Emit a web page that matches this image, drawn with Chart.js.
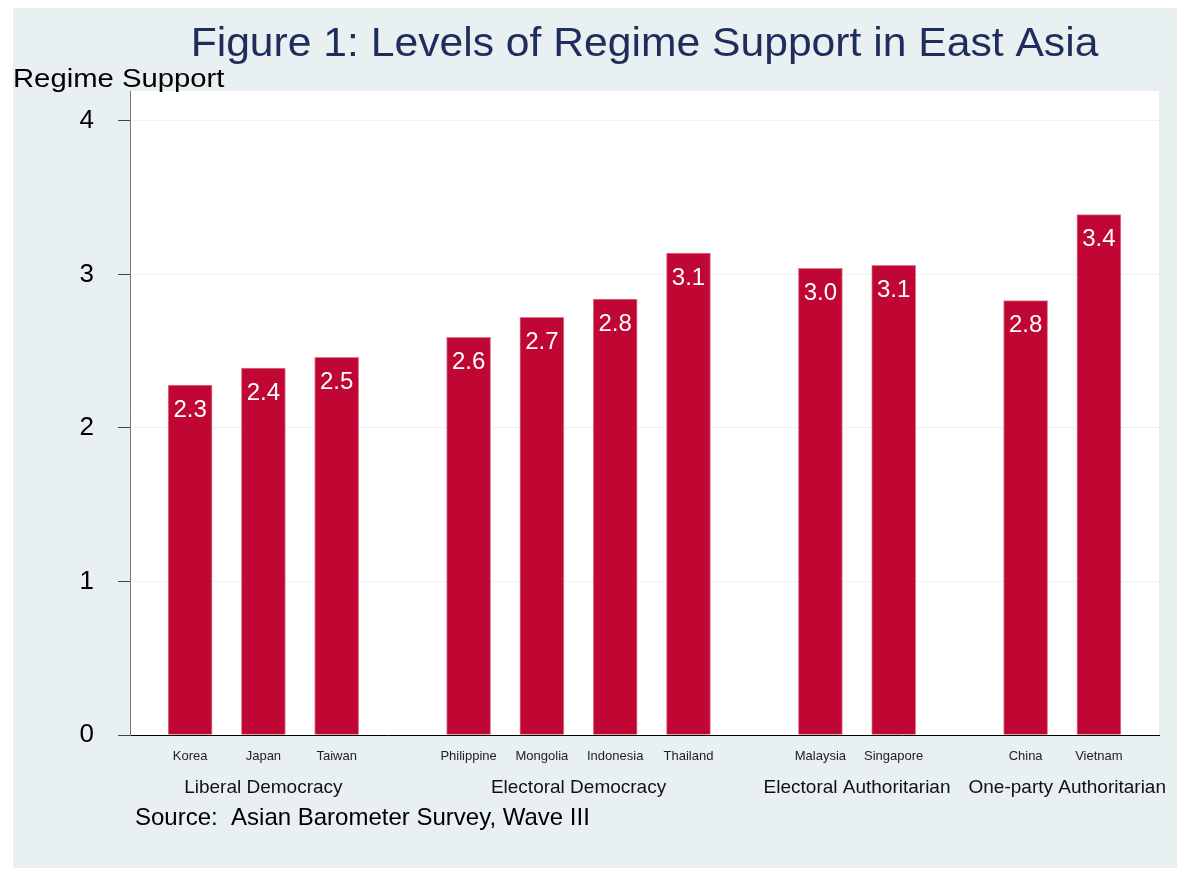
<!DOCTYPE html>
<html>
<head>
<meta charset="utf-8">
<script src="https://cdn.jsdelivr.net/npm/chart.js"></script>
<style>
  body { margin: 0; background: #fff; }
  #wrap { width: 1178px; height: 869px; }
</style>
</head>
<body>
<div id="wrap"><canvas id="grafico"></canvas></div>
<script>
// values
const countries = ['Korea', 'Japan', 'Taiwan', 'Philippine', 'Mongolia', 'Indonesia', 'Thailand',
                   'Malaysia', 'Singapore', 'China', 'Vietnam'];
const regimeSupport = [2.28, 2.39, 2.46, 2.59, 2.72, 2.84, 3.14, 3.04, 3.06, 2.83, 3.39];
const groupNames = ['Liberal Democracy', 'Electoral Democracy', 'Electoral Authoritarian', 'One-party Authoritarian'];
const groupOf = [0, 0, 0, 1, 1, 1, 1, 2, 2, 3, 3];
const yTicks = [0, 1, 2, 3, 4];

const GAP = 0.8; // extra space between regime groups
const xPos = countries.map((c, i) => i + groupOf[i] * GAP);

const barRed = '#c00633';
const fontFam = 'Arial, "Liberation Sans", Helvetica, sans-serif';

const ctx = document.getElementById('grafico');

// text drawn a little wider, like the original
function wideText(c, txt, x, y, sx) {
  c.save();
  c.translate(x, y);
  c.scale(sx, 1);
  c.fillText(txt, 0, 0);
  c.restore();
}

// background, titles, value labels, group labels
const extras = {
  id: 'extras',
  beforeDraw(chart) {
    const c = chart.ctx, a = chart.chartArea;
    c.save();
    c.fillStyle = '#e8f0f2';
    c.fillRect(13, 8, 1164, 860);
    c.fillStyle = '#ffffff';
    c.fillRect(a.left, a.top, a.right - a.left, a.bottom - a.top);
    c.restore();
  },
  afterDatasetsDraw(chart) {
    const c = chart.ctx, a = chart.chartArea;
    const xs = chart.scales.x;
    const meta = chart.getDatasetMeta(0);
    c.save();
    c.textAlign = 'center';
    c.textBaseline = 'middle';
    c.fillStyle = '#ffffff';
    c.font = '24px ' + fontFam;
    meta.data.forEach((bar, i) => {
      c.fillText(regimeSupport[i].toFixed(1), bar.x, bar.y + 25);
    });

    // group labels
    c.fillStyle = '#111';
    c.font = '19px ' + fontFam;
    groupNames.forEach((g, gi) => {
      const xsIn = xPos.filter((v, i) => groupOf[i] === gi);
      const mid = (xsIn[0] + xsIn[xsIn.length - 1]) / 2;
      c.fillText(g, xs.getPixelForValue(mid) + (gi === 3 ? 5 : 0), 788);
    });

    // title
    c.fillStyle = '#1f2d5c';
    c.font = '41px ' + fontFam;
    wideText(c, 'Figure 1: Levels of Regime Support in East Asia', (a.left + a.right) / 2, 45, 1.04);

    // axis title and source
    c.textAlign = 'left';
    c.fillStyle = '#000';
    c.font = '25px ' + fontFam;
    wideText(c, 'Regime Support', 13, 80, 1.17);
    c.font = '24px ' + fontFam;
    wideText(c, 'Source:  Asian Barometer Survey, Wave III', 135, 818, 1.0);
    c.restore();
  }
};

new Chart(ctx, {
  type: 'bar',
  data: {
    datasets: [{
      label: 'Regime Support',
      data: xPos.map((x, i) => ({ x: x, y: regimeSupport[i] })),
      backgroundColor: barRed,
      borderColor: '#e07a92',
      borderWidth: 1,
      barThickness: 44
    }]
  },
  options: {
    responsive: true,
    maintainAspectRatio: false,
    animation: false,
    layout: { padding: { top: 91, right: 19, left: 0, bottom: 0 } },
    plugins: { legend: { display: false }, tooltip: { enabled: false } },
    scales: {
      x: {
        type: 'linear',
        offset: false,
        min: -0.82,
        max: xPos[xPos.length - 1] + 0.82,
        afterBuildTicks: (scale) => { scale.ticks = xPos.map(v => ({ value: v })); },
        afterFit: (scale) => { scale.height = 134; },
        grid: { display: false, drawTicks: false },
        border: { color: '#000', width: 1 },
        ticks: {
          autoSkip: false,
          maxRotation: 0,
          padding: 14,
          color: '#222',
          font: { size: 13, family: fontFam },
          callback: (v, i) => countries[i]
        }
      },
      y: {
        min: 0,
        max: 4.195,
        afterBuildTicks: (scale) => { scale.ticks = yTicks.map(v => ({ value: v })); },
        afterFit: (scale) => { scale.width = 130; },
        grid: { color: '#eaf2f3', tickColor: '#444', tickLength: 12 },
        border: { color: '#777', width: 1 },
        ticks: {
          padding: 24,
          color: '#000',
          font: { size: 26, family: fontFam }
        }
      }
    }
  },
  plugins: [extras]
});
</script>
</body>
</html>
